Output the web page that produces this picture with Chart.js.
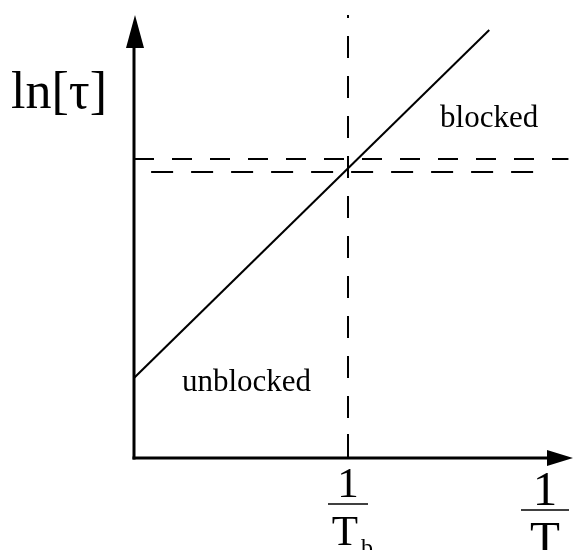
<!DOCTYPE html>
<html>
<head>
<meta charset="utf-8">
<script src="https://cdn.jsdelivr.net/npm/chart.js@4/dist/chart.umd.min.js"></script>
<style>
  html, body { margin: 0; padding: 0; background: #fff; }
  #wrap { width: 574px; height: 550px; }
</style>
</head>
<body>
<div id="wrap"><canvas id="c" width="574" height="550"></canvas></div>
<script>
// Blocking temperature sketch: ln[tau] against 1/T
const crossoverX = 1;                 // 1/T_b
const relaxLineX = [0, 1.66];         // ln[tau] grows linearly with 1/T
const relaxLineY = [0.80, 4.28];
const upperLevelX = [0, 2.03];        // measurement time window, upper bound
const upperLevelY = [2.99, 2.99];
const lowerLevelX = [0.08, 1.90];     // measurement time window, lower bound
const lowerLevelY = [2.86, 2.86];
const crossoverY = [0, 4.43];
const axisMaxX = 2.056;
const axisMaxY = 4.43;
const yAxisTitle = 'ln[τ]';
const xAxisTitle = ['1', 'T'];
const crossoverTick = ['1', 'T', 'b'];
const regionLabels = ['blocked', 'unblocked'];

const pts = (xs, ys) => xs.map((x, i) => ({ x, y: ys[i] }));
const SERIF = '"Liberation Serif", "DejaVu Serif", serif';

const sketchDecor = {
  id: 'sketchDecor',
  afterDatasetsDraw(chart) {
    const { ctx, scales: { x, y } } = chart;
    const x0 = x.getPixelForValue(0);
    const y0 = y.getPixelForValue(0);
    const yTop = y.getPixelForValue(axisMaxY);
    const xEnd = x.getPixelForValue(axisMaxX);
    ctx.save();
    ctx.strokeStyle = '#000';
    ctx.fillStyle = '#000';
    ctx.lineWidth = 3;
    ctx.setLineDash([]);

    // vertical axis with arrow head
    ctx.beginPath();
    ctx.moveTo(x0, y0 + 1.5);
    ctx.lineTo(x0, yTop + 30);
    ctx.stroke();
    ctx.beginPath();
    ctx.moveTo(x0 + 1, yTop);
    ctx.lineTo(x0 + 10, yTop + 33);
    ctx.lineTo(x0 - 8, yTop + 33);
    ctx.closePath();
    ctx.fill();

    // horizontal axis with arrow head
    ctx.beginPath();
    ctx.moveTo(x0 - 1.5, y0);
    ctx.lineTo(xEnd - 24, y0);
    ctx.stroke();
    ctx.beginPath();
    ctx.moveTo(xEnd - 1, y0);
    ctx.lineTo(xEnd - 27, y0 - 8);
    ctx.lineTo(xEnd - 27, y0 + 8);
    ctx.closePath();
    ctx.fill();

    // tick at 1/T_b
    const xc = x.getPixelForValue(crossoverX);
    ctx.lineWidth = 2;
    ctx.beginPath();
    ctx.moveTo(xc, y0);
    ctx.lineTo(xc, y0 - 24);
    ctx.stroke();

    // y axis title
    ctx.textBaseline = 'alphabetic';
    ctx.textAlign = 'left';
    ctx.font = '52px ' + SERIF;
    ctx.fillText(yAxisTitle, 11, y.getPixelForValue(3.50));

    // region labels
    ctx.font = '31px ' + SERIF;
    ctx.fillText(regionLabels[0], x.getPixelForValue(1.43), y.getPixelForValue(3.31));
    ctx.fillText(regionLabels[1], x.getPixelForValue(0.224), y.getPixelForValue(0.67));

    // fraction 1 / T_b under the tick
    ctx.textAlign = 'center';
    ctx.font = '43px ' + SERIF;
    ctx.fillText(crossoverTick[0], xc, y0 + 39);
    ctx.lineWidth = 1.5;
    ctx.beginPath();
    ctx.moveTo(xc - 20, y0 + 46);
    ctx.lineTo(xc + 20, y0 + 46);
    ctx.stroke();
    ctx.fillText(crossoverTick[1], xc - 3, y0 + 87);
    ctx.font = '24px ' + SERIF;
    ctx.textAlign = 'left';
    ctx.fillText(crossoverTick[2], xc + 13, y0 + 97);

    // fraction 1 / T at the end of the axis
    const xt = xEnd - 29;
    ctx.textAlign = 'center';
    ctx.font = '49px ' + SERIF;
    ctx.fillText(xAxisTitle[0], xt, y0 + 47);
    ctx.lineWidth = 1.5;
    ctx.beginPath();
    ctx.moveTo(xt - 24, y0 + 52);
    ctx.lineTo(xt + 24, y0 + 52);
    ctx.stroke();
    ctx.fillText(xAxisTitle[1], xt, y0 + 97);
    ctx.restore();
  }
};

new Chart(document.getElementById('c'), {
  type: 'scatter',
  data: {
    datasets: [
      { data: pts(relaxLineX, relaxLineY), showLine: true, borderColor: '#000', borderWidth: 2, pointRadius: 0 },
      { data: pts(upperLevelX, upperLevelY), showLine: true, borderColor: '#000', borderWidth: 2, borderDash: [20, 18], pointRadius: 0 },
      { data: pts(lowerLevelX, lowerLevelY), showLine: true, borderColor: '#000', borderWidth: 2, borderDash: [22, 18], pointRadius: 0 },
      { data: pts([crossoverX, crossoverX], crossoverY), showLine: true, borderColor: '#000', borderWidth: 2, borderDash: [22, 18], pointRadius: 0 }
    ]
  },
  options: {
    responsive: false,
    animation: false,
    layout: { padding: { left: 134, right: 0, top: 15, bottom: 92 } },
    plugins: { legend: { display: false }, tooltip: { enabled: false } },
    scales: {
      x: { type: 'linear', min: 0, max: axisMaxX, display: false },
      y: { type: 'linear', min: 0, max: axisMaxY, display: false }
    }
  },
  plugins: [sketchDecor]
});
</script>
</body>
</html>
